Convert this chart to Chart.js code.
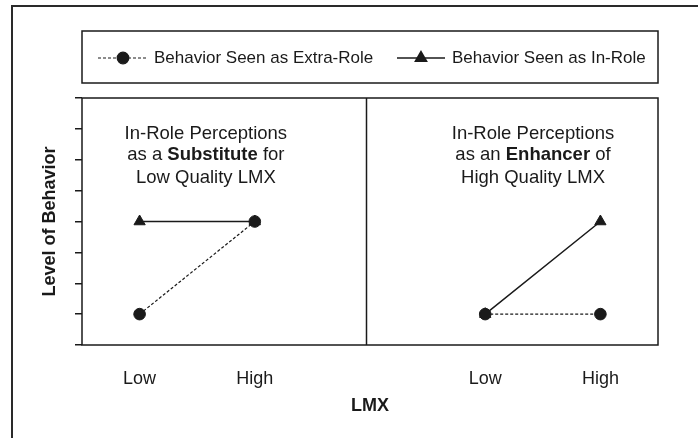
<!DOCTYPE html>
<html>
<head>
<meta charset="utf-8">
<script src="https://cdn.jsdelivr.net/npm/chart.js@4.4.0/dist/chart.umd.min.js"></script>
<style>
html, body { margin: 0; padding: 0; background: #fff; }
#wrap { width: 698px; height: 438px; position: relative; }
</style>
</head>
<body>
<div id="wrap"><canvas id="chart"></canvas></div>
<script>
// LMX positions on the x axis: two panels, Low/High each
const lmxPositions = [1, 3, 7, 9];
const lmxLabels = ['Low', 'High', 'Low', 'High'];
const extraRole = [1, 4, 1, 1];
const inRole = [4, 4, 1, 4];
const seriesNames = ['Behavior Seen as Extra-Role', 'Behavior Seen as In-Role'];
const panelDivider = 4.93;

// panel captions, segments are [text, bold]
const leftNote = [
    [['In-Role Perceptions', false]],
    [['as a ', false], ['Substitute', true], [' for', false]],
    [['Low Quality LMX', false]]
];
const rightNote = [
    [['In-Role Perceptions', false]],
    [['as an ', false], ['Enhancer', true], [' of', false]],
    [['High Quality LMX', false]]
];

const FONT = "'Liberation Sans', Arial, sans-serif";
const INK = '#1a1a1a';

function toPoints(values) {
    const pts = [];
    values.forEach((v, i) => {
        if (i === 2) pts.push({ x: panelDivider, y: null });
        pts.push({ x: lmxPositions[i], y: v });
    });
    return pts;
}

const frame = {
    id: 'frame',
    beforeDraw(chart) {
        const ctx = chart.ctx;
        ctx.save();
        ctx.strokeStyle = '#2a2a2a';
        ctx.lineWidth = 2;
        ctx.strokeRect(12, 6, 720, 460);
        ctx.restore();
    },
    afterDraw(chart) {
        const { ctx, chartArea: a, scales } = chart;
        ctx.save();
        ctx.strokeStyle = INK;
        ctx.lineWidth = 1.5;
        ctx.strokeRect(a.left, a.top, a.right - a.left, a.bottom - a.top);
        const dx = Math.round(scales.x.getPixelForValue(panelDivider)) + 0.5;
        ctx.beginPath();
        ctx.moveTo(dx, a.top);
        ctx.lineTo(dx, a.bottom);
        ctx.stroke();

        // captions
        const drawNote = (note, xVal) => {
            const cx = scales.x.getPixelForValue(xVal);
            const ys = [6.84, 6.16, 5.42];
            note.forEach((segs, li) => {
                const y = scales.y.getPixelForValue(ys[li]);
                let total = 0;
                segs.forEach(([t, b]) => {
                    ctx.font = (b ? 'bold ' : '') + '18.5px ' + FONT;
                    total += ctx.measureText(t).width;
                });
                let x = cx - total / 2;
                ctx.fillStyle = INK;
                ctx.textBaseline = 'middle';
                ctx.textAlign = 'left';
                segs.forEach(([t, b]) => {
                    ctx.font = (b ? 'bold ' : '') + '18.5px ' + FONT;
                    ctx.fillText(t, x, y);
                    x += ctx.measureText(t).width;
                });
            });
        };
        drawNote(leftNote, 2.15);
        drawNote(rightNote, 7.83);

        // legend box
        ctx.lineWidth = 1.5;
        ctx.strokeRect(a.left, 31, a.right - a.left, 52);
        const ly = 58;
        const items = [
            { x0: 98, x1: 148, text: 154, ds: chart.data.datasets[0] },
            { x0: 397, x1: 445, text: 452, ds: chart.data.datasets[1] }
        ];
        items.forEach(it => {
            ctx.beginPath();
            ctx.setLineDash(it.ds.borderDash || []);
            ctx.lineWidth = it.ds.borderWidth;
            ctx.strokeStyle = INK;
            ctx.moveTo(it.x0, ly);
            ctx.lineTo(it.x1, ly);
            ctx.stroke();
            ctx.setLineDash([]);
            Chart.helpers.drawPoint(ctx, {
                pointStyle: it.ds.pointStyle,
                radius: it.ds.pointRadius,
                borderWidth: 1
            }, (it.x0 + it.x1) / 2, ly);
            ctx.fillStyle = INK;
            ctx.font = '17px ' + FONT;
            ctx.textBaseline = 'middle';
            ctx.fillText(it.ds.label, it.text, ly);
        });
        ctx.restore();
    }
};

new Chart(document.getElementById('chart'), {
    type: 'line',
    data: {
        datasets: [
            {
                label: seriesNames[0],
                data: toPoints(extraRole),
                borderColor: INK,
                backgroundColor: INK,
                borderWidth: 1.2,
                borderDash: [3, 2],
                pointStyle: 'circle',
                pointRadius: 5.8,
                pointBorderWidth: 1,
                spanGaps: false
            },
            {
                label: seriesNames[1],
                data: toPoints(inRole),
                borderColor: INK,
                backgroundColor: INK,
                borderWidth: 1.5,
                pointStyle: 'triangle',
                pointRadius: 6.5,
                pointBorderWidth: 1,
                spanGaps: false
            }
        ]
    },
    options: {
        responsive: true,
        maintainAspectRatio: false,
        animation: false,
        layout: { padding: { left: 12, top: 98, right: 40, bottom: 0 } },
        plugins: { legend: { display: false }, tooltip: { enabled: false } },
        scales: {
            x: {
                type: 'linear',
                min: 0,
                max: 10,
                afterBuildTicks: scale => { scale.ticks = lmxPositions.map(v => ({ value: v })); },
                afterFit: scale => { scale.height = 93; },
                grid: { display: false, drawTicks: false },
                border: { display: false },
                ticks: {
                    autoSkip: false,
                    maxRotation: 0,
                    padding: 23,
                    color: INK,
                    font: { family: FONT, size: 18 },
                    callback: (value, index) => lmxLabels[index]
                },
                title: {
                    display: true,
                    text: 'LMX',
                    color: INK,
                    font: { family: FONT, size: 18, weight: 'bold' },
                    padding: { top: 0, bottom: 21 }
                }
            },
            y: {
                min: 0,
                max: 8,
                afterFit: scale => { scale.width = 70; },
                grid: { drawOnChartArea: false, drawTicks: true, tickLength: 7, color: INK, lineWidth: 1.5 },
                border: { display: false },
                ticks: { stepSize: 1, display: false },
                title: {
                    display: true,
                    text: 'Level of Behavior',
                    color: INK,
                    font: { family: FONT, size: 18, weight: 'bold' },
                    padding: { top: 27, bottom: 0 }
                }
            }
        }
    },
    plugins: [frame]
});
</script>
</body>
</html>
